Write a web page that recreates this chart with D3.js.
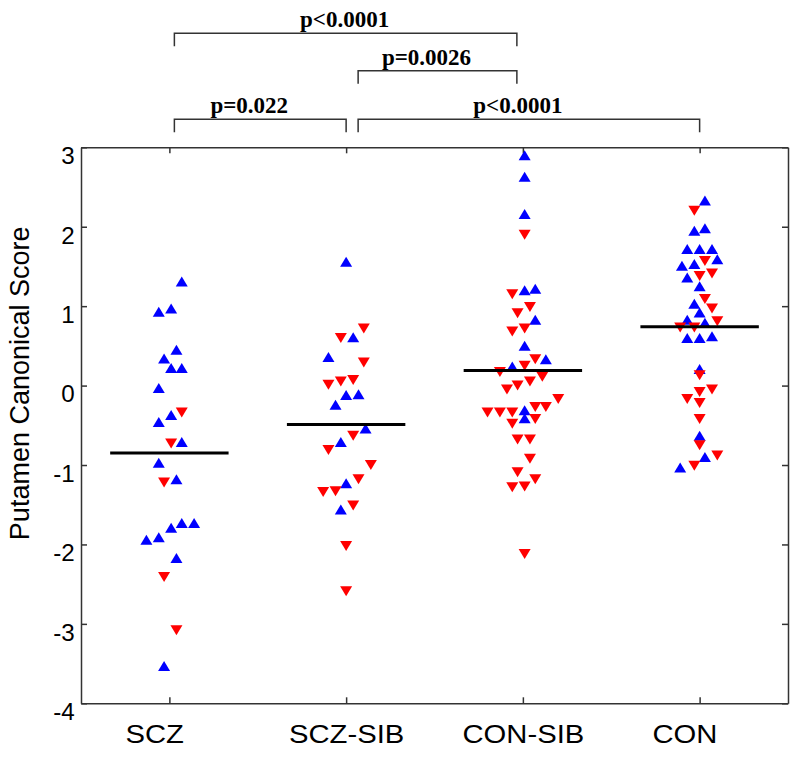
<!DOCTYPE html>
<html lang="en">
<head>
  <meta charset="UTF-8">
  <title>Putamen Canonical Score</title>
  <script src="https://d3js.org/d3.v7.min.js"></script>
  <style>
    body { margin: 0; background: #fff; }
  </style>
</head>
<body>
  <script>
    // groups along x
    const categories = ["SCZ", "SCZ-SIB", "CON-SIB", "CON"];
    const yTicks = [-4, -3, -2, -1, 0, 1, 2, 3];

    // points per group: [x jitter in category units, score, type]
    // type "u" = blue up triangle, "d" = red down triangle
    const sczPoints = [
      [0.07, 1.31, "u"], [-0.06, 0.93, "u"], [0.01, 0.97, "u"], [0.04, 0.45, "u"],
      [-0.03, 0.34, "u"], [0.01, 0.22, "u"], [0.07, 0.22, "u"], [-0.06, -0.03, "u"],
      [0.07, -0.34, "d"], [0.01, -0.37, "u"], [-0.06, -0.46, "u"], [0.01, -0.73, "d"],
      [0.07, -0.71, "u"], [-0.06, -0.97, "u"], [-0.03, -1.22, "d"], [0.04, -1.18, "u"],
      [0.07, -1.73, "u"], [0.14, -1.73, "u"], [0.01, -1.79, "u"], [-0.06, -1.91, "u"],
      [-0.13, -1.94, "u"], [0.04, -2.17, "u"], [-0.03, -2.41, "d"], [0.04, -3.08, "d"],
      [-0.03, -3.53, "u"]
    ];
    const sczSibPoints = [
      [0, 1.56, "u"], [0.10, 0.72, "d"], [-0.03, 0.60, "d"], [0.04, 0.61, "u"],
      [-0.10, 0.36, "u"], [0.10, 0.29, "d"], [-0.10, 0.01, "d"], [-0.03, 0.05, "d"],
      [0.04, 0.07, "d"], [0, -0.12, "u"], [0.07, -0.11, "u"], [-0.06, -0.24, "u"],
      [0.11, -0.54, "u"], [0.04, -0.63, "d"], [-0.03, -0.71, "u"], [-0.10, -0.81, "d"],
      [0.14, -1.00, "d"], [0.07, -1.18, "d"], [0, -1.23, "u"], [-0.13, -1.34, "d"],
      [-0.06, -1.33, "d"], [0.04, -1.51, "d"], [-0.03, -1.56, "u"], [0, -2.02, "d"],
      [0, -2.59, "d"]
    ];
    const conSibPoints = [
      [0.01, 2.90, "u"], [0.01, 2.63, "u"], [0.01, 2.16, "u"], [0.01, 1.90, "d"],
      [-0.06, 1.15, "d"], [0.01, 1.20, "u"], [0.07, 1.22, "u"], [0.04, 0.99, "d"],
      [-0.03, 0.91, "d"], [0.07, 0.83, "u"], [-0.06, 0.68, "d"], [0.01, 0.72, "d"],
      [0.01, 0.50, "u"], [0.07, 0.33, "d"], [0.13, 0.33, "u"], [-0.06, 0.24, "u"],
      [0.01, 0.25, "d"], [-0.13, 0.17, "d"], [0.11, 0.11, "d"], [0.04, 0.05, "d"],
      [-0.03, 0.00, "d"], [-0.09, -0.05, "d"], [0.20, -0.17, "d"], [0.07, -0.27, "d"],
      [0.13, -0.27, "d"], [-0.20, -0.34, "d"], [-0.13, -0.34, "d"], [-0.06, -0.34, "d"],
      [0.01, -0.31, "u"], [0.01, -0.41, "u"], [0.07, -0.42, "d"], [-0.06, -0.48, "d"],
      [-0.03, -0.68, "d"], [0.04, -0.68, "d"], [0.04, -0.92, "d"], [-0.03, -1.09, "d"],
      [0.07, -1.18, "d"], [-0.06, -1.28, "d"], [0.01, -1.27, "d"], [0.01, -2.12, "d"]
    ];
    const conPoints = [
      [0.03, 2.33, "u"], [-0.03, 2.20, "d"], [-0.03, 1.95, "u"], [0.03, 1.98, "u"],
      [-0.07, 1.72, "u"], [0, 1.72, "u"], [0.07, 1.72, "u"], [0.10, 1.59, "u"],
      [0.03, 1.57, "d"], [-0.03, 1.53, "u"], [-0.10, 1.51, "u"], [0.07, 1.41, "d"],
      [0, 1.38, "d"], [-0.07, 1.36, "u"], [0, 1.25, "u"], [0.03, 1.09, "d"],
      [-0.03, 1.03, "u"], [0.07, 0.97, "d"], [0, 0.92, "u"], [-0.07, 0.83, "u"],
      [0.10, 0.81, "d"], [0.03, 0.79, "u"], [-0.11, 0.73, "d"], [-0.03, 0.73, "d"],
      [-0.07, 0.60, "u"], [0, 0.60, "u"], [0.07, 0.62, "u"], [0, 0.21, "u"],
      [0, 0.13, "d"], [0.07, -0.05, "d"], [0, -0.08, "d"], [-0.07, -0.17, "d"],
      [0, -0.22, "d"], [0, -0.42, "d"], [0, -0.63, "u"], [0, -0.75, "d"],
      [0.03, -0.90, "u"], [0.10, -0.88, "d"], [-0.03, -1.01, "d"], [-0.11, -1.03, "u"]
    ];
    const groupPoints = [sczPoints, sczSibPoints, conSibPoints, conPoints];

    // group means (black bars)
    const groupMeans = [-0.85, -0.49, 0.19, 0.74];

    // significance brackets
    const comparisons = [
      { from: "SCZ", to: "CON-SIB", label: "p<0.0001" },
      { from: "SCZ-SIB", to: "CON-SIB", label: "p=0.0026" },
      { from: "SCZ", to: "SCZ-SIB", label: "p=0.022" },
      { from: "SCZ-SIB", to: "CON", label: "p<0.0001" }
    ];

    const width = 800, height = 760;
    const plotLeft = 81, plotRight = 788, plotTop = 147.3, plotBottom = 703.3;

    const svg = d3.select("body")
      .append("svg")
      .attr("width", width)
      .attr("height", height);

    const x = d3.scaleLinear().domain([0.5, 4.5]).range([plotLeft, plotRight]);
    const y = d3.scaleLinear().domain([-4, 3]).range([plotBottom, plotTop]);

    const axisColor = "#333";
    const fontSans = "Arial, 'Liberation Sans', Helvetica, sans-serif";

    // box with inward ticks on all sides
    svg.append("g")
      .attr("transform", `translate(0,${plotBottom})`)
      .call(d3.axisBottom(x).tickValues([1, 2, 3, 4])
        .tickFormat(d => categories[d - 1])
        .tickSizeInner(-6).tickSizeOuter(0).tickPadding(22))
      .call(g => g.selectAll("text")
        .attr("dx", d => categories[d - 1].length <= 3 ? -13 : 0)
        .attr("transform", "scale(1.17,1)")
        .attr("font-family", fontSans).attr("font-size", 25).attr("fill", "#000"));

    svg.append("g")
      .attr("transform", `translate(0,${plotTop})`)
      .call(d3.axisTop(x).tickValues([1, 2, 3, 4]).tickFormat("")
        .tickSizeInner(-6).tickSizeOuter(0));

    svg.append("g")
      .attr("transform", `translate(${plotLeft},0)`)
      .call(d3.axisLeft(y).tickValues(yTicks).tickFormat(d => String(d))
        .tickSizeInner(-6).tickSizeOuter(0).tickPadding(6))
      .call(g => g.selectAll("text")
        .attr("dy", "0.71em")
        .attr("transform", "scale(1.05,1)")
        .attr("font-family", fontSans).attr("font-size", 23).attr("fill", "#000"));

    svg.append("g")
      .attr("transform", `translate(${plotRight},0)`)
      .call(d3.axisRight(y).tickValues(yTicks).tickFormat("")
        .tickSizeInner(-6).tickSizeOuter(0));

    svg.selectAll(".domain, .tick line")
      .attr("stroke", axisColor)
      .attr("stroke-width", 1.5);

    // y label
    svg.append("text")
      .attr("transform", `translate(29,${(plotTop + plotBottom) / 2 - 42}) rotate(-90)`)
      .attr("text-anchor", "middle")
      .attr("font-family", fontSans)
      .attr("font-size", 27)
      .text("Putamen Canonical Score");

    // triangles
    const triUp = "M0,-5L6,5L-6,5Z";
    const triDown = "M0,5L6,-5L-6,-5Z";

    groupPoints.forEach((pts, gi) => {
      svg.append("g")
        .selectAll("path")
        .data(pts)
        .join("path")
        .attr("d", d => d[2] === "u" ? triUp : triDown)
        .attr("transform", d => `translate(${x(gi + 1 + d[0])},${y(d[1])})`)
        .attr("fill", d => d[2] === "u" ? "#0000ff" : "#ff0000");
    });

    // mean bars
    svg.append("g")
      .selectAll("line")
      .data(groupMeans)
      .join("line")
      .attr("x1", (d, i) => x(i + 1 - 0.335))
      .attr("x2", (d, i) => x(i + 1 + 0.335))
      .attr("y1", d => y(d))
      .attr("y2", d => y(d))
      .attr("stroke", "#000")
      .attr("stroke-width", 3);

    // brackets
    const levelY = [33.3, 70.7, 119.3, 119.3];
    const nudge = { "SCZ": 5, "SCZ-SIB": 0, "CON-SIB": -6, "CON": 0 };
    const bracket = svg.append("g");
    comparisons.forEach((c, i) => {
      const i1 = categories.indexOf(c.from) + 1;
      const i2 = categories.indexOf(c.to) + 1;
      const x1 = x(i1) + (c.from === "SCZ-SIB" ? 12 : nudge[c.from]);
      const x2 = x(i2) + nudge[c.to];
      const by = levelY[i];
      bracket.append("path")
        .attr("d", `M${x1},${by + 13}V${by}H${x2}V${by + 13}`)
        .attr("fill", "none")
        .attr("stroke", axisColor)
        .attr("stroke-width", 1.5);
      bracket.append("text")
        .attr("x", (x1 + x2) / 2 - (i === 0 ? 1 : 11))
        .attr("y", by - 6)
        .attr("text-anchor", "middle")
        .attr("font-family", "'Times New Roman', 'Liberation Serif', serif")
        .attr("font-weight", "bold")
        .attr("font-size", 23)
        .text(c.label);
    });
  </script>
</body>
</html>
